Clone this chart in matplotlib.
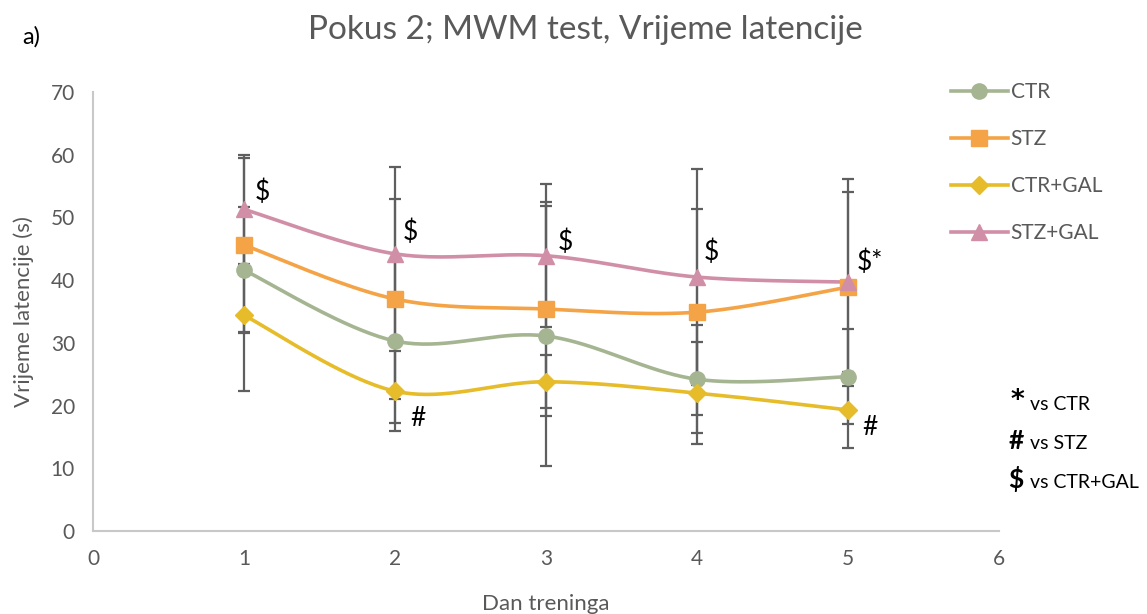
# Pokus 2; MWM test - vrijeme latencije
import numpy as np
import matplotlib
matplotlib.use("Agg")
import matplotlib.pyplot as plt
from matplotlib.lines import Line2D

plt.rcParams['font.family'] = ['Lato', 'DejaVu Sans']

# Data
dani = [1, 2, 3, 4, 5]
ctr = [41.6, 30.3, 31.1, 24.2, 24.6]
stz = [45.6, 37.0, 35.4, 34.9, 38.9]
ctr_gal = [34.4, 22.3, 23.8, 22.0, 19.3]
stz_gal = [51.3, 44.2, 43.9, 40.5, 39.7]

ctr_err = [10.0, 13.0, 20.7, 8.6, 7.6]
stz_err = [13.9, 15.9, 17.0, 16.4, 15.1]
ctr_gal_err = [12.1, 6.4, 4.2, 8.1, 6.0]
stz_gal_err = [8.7, 13.8, 11.4, 17.2, 16.5]

labels = ['CTR', 'STZ', 'CTR+GAL', 'STZ+GAL']
colors = ['#A5B592', '#F4A446', '#E6BC2A', '#D18FA7']
markers = ['o', 's', 'D', '^']
msizes = [11, 11, 9, 11]

# significance marks: (series index, day index, text, dx px, dy px)
sig = [(3, 0, '$', 18, 17), (3, 1, '$', 15, 22), (3, 2, '$', 19, 13),
       (3, 3, '$', 14, 25), (3, 4, '$*', 22, 20),
       (2, 1, '#', 23, -27), (2, 4, '#', 22, -18)]


def smooth(x, y, n=40):
    # Bezier smoothing similar to Excel's smoothed line
    x = np.asarray(x, float)
    y = np.asarray(y, float)
    px = np.concatenate([[x[0]], x, [x[-1]]])
    py = np.concatenate([[y[0]], y, [y[-1]]])
    xs, ys = [], []
    t = np.linspace(0, 1, n)
    for i in range(1, len(x)):
        p0 = np.array([px[i], py[i]])
        p3 = np.array([px[i + 1], py[i + 1]])
        c1 = p0 + (p3 - np.array([px[i - 1], py[i - 1]])) / 6
        c2 = p3 - (np.array([px[i + 2], py[i + 2]]) - p0) / 6
        b = ((1 - t) ** 3)[:, None] * p0 + (3 * (1 - t) ** 2 * t)[:, None] * c1 \
            + (3 * (1 - t) * t ** 2)[:, None] * c2 + (t ** 3)[:, None] * p3
        xs.extend(b[:, 0])
        ys.extend(b[:, 1])
    return xs, ys


fig = plt.figure(figsize=(11.47, 6.14), dpi=100)
ax = fig.add_axes([0.0811, 0.1352, 0.7899, 0.7148])

series = [ctr, stz, ctr_gal, stz_gal]
errs = [ctr_err, stz_err, ctr_gal_err, stz_gal_err]

for s, e in zip(series, errs):
    ax.errorbar(dani, s, yerr=e, fmt='none', ecolor='#5F5F5F', elinewidth=1.6,
                capsize=4.5, capthick=1.6, zorder=2)

for s, c, m, ms in zip(series, colors, markers, msizes):
    sx, sy = smooth(dani, s)
    ax.plot(sx, sy, color=c, lw=2.6, zorder=3, solid_capstyle='round')
    ax.plot(dani, s, ls='none', marker=m, color=c, ms=ms, zorder=4)

for si, di, txt, dx, dy in sig:
    ax.annotate(txt, xy=(dani[di], series[si][di]), xytext=(dx, dy),
                textcoords='offset pixels', ha='center', va='center',
                fontsize=19, color='black', zorder=5)

ax.set_xlim(0, 6)
ax.set_ylim(0, 70)
ax.set_xticks(range(0, 7))
ax.set_yticks(range(0, 71, 10))
ax.tick_params(length=0, labelsize=15, labelcolor='#595959', pad=13)
for sp in ['top', 'right']:
    ax.spines[sp].set_visible(False)
for sp in ['left', 'bottom']:
    ax.spines[sp].set_color('#C8C8C8')
    ax.spines[sp].set_linewidth(1.5)

ax.set_xlabel('Dan treninga', fontsize=16, color='#595959', labelpad=18)
ax.set_ylabel('Vrijeme latencije (s)', fontsize=16, color='#595959', labelpad=12)

fig.text(0.51, 0.951, 'Pokus 2; MWM test, Vrijeme latencije', ha='center', va='center',
         fontsize=24, color='#595959')
fig.text(0.019, 0.94, 'a)', ha='left', va='center', fontsize=17, color='black')

handles = [Line2D([0], [0], color=c, lw=2.6, marker=m, ms=ms)
           for c, m, ms in zip(colors, markers, msizes)]
fig.legend(handles, labels, loc='upper left', bbox_to_anchor=(0.813, 0.897),
           frameon=False, fontsize=15, labelcolor='#595959', handlelength=2.7,
           handletextpad=0.15, labelspacing=1.3)

# significance key
key_sym = ['*', '#', '$']
key_txt = ['vs CTR', 'vs STZ', 'vs CTR+GAL']
key_y = [0.332, 0.269, 0.205]
for sym, txt, yy in zip(key_sym, key_txt, key_y):
    if sym == '*':
        fig.text(0.881, yy + 0.004, sym, fontsize=19, fontweight='bold',
                 family='DejaVu Sans', ha='left', va='baseline')
    else:
        fig.text(0.879, yy, sym, fontsize=19, fontweight='bold',
                 ha='left', va='baseline')
    fig.text(0.898, yy, txt, fontsize=14, ha='left', va='baseline')

plt.savefig('out.png', dpi=100)
